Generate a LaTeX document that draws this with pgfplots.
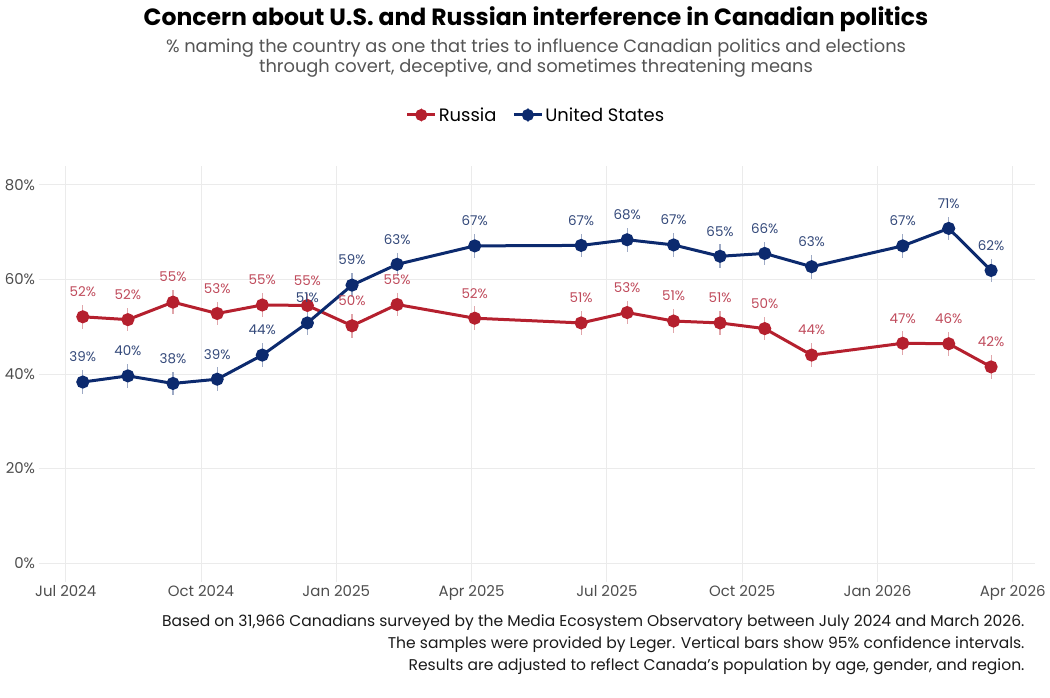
\documentclass[border=0pt]{standalone}
\usepackage{pgfplots}
\pgfplotsset{compat=1.18}
\usepackage{pgfplotstable}
\usepackage{fontspec}
\setmainfont{Poppins}
\definecolor{rus}{HTML}{B5202E}
\definecolor{usa}{HTML}{0C2A6E}
\definecolor{ruslab}{HTML}{BF4A5B}
\definecolor{usalab}{HTML}{34497A}
\definecolor{gridc}{HTML}{EBEBEB}
\definecolor{subc}{HTML}{555555}
\definecolor{tickc}{HTML}{4D4D4D}
\definecolor{capc}{HTML}{1A1A1A}

\pgfplotstableread{
x r rl u ul
0.38 52.1 52 38.3 39
1.38 51.5 52 39.6 40
2.38 55.2 55 38.0 38
3.36 52.8 53 38.9 39
4.36 54.6 55 44.0 44
5.36 54.5 55 50.8 51
6.35 50.2 50 58.8 59
7.35 54.7 55 63.2 63
9.07 51.8 52 67.1 67
11.43 50.8 51 67.2 67
12.45 53.0 53 68.4 68
13.48 51.2 51 67.3 67
14.51 50.8 51 64.9 65
15.50 49.6 50 65.5 66
16.54 44.0 44 62.7 63
18.56 46.5 47 67.1 67
19.58 46.4 46 70.8 71
20.52 41.5 42 61.9 62
}\data

\begin{document}
\begin{tikzpicture}[x=1bp,y=1bp]
\useasboundingbox (0,0) rectangle (1050,698);
\node[font=\fontsize{23.6}{26}\selectfont\bfseries, text=black] at (536,679) {Concern about U.S. and Russian interference in Canadian politics};
\node[font=\fontsize{17.9}{20}\selectfont, text=subc, align=center] at (536,640) {\% naming the country as one that tries to influence Canadian politics and elections\\through covert, deceptive, and sometimes threatening means};
\node[font=\fontsize{15.6}{22}\selectfont, text=capc, align=right, anchor=north east] at (1028,87) {Based on 31,966 Canadians surveyed by the Media Ecosystem Observatory between July 2024 and March 2026.\\The samples were provided by Leger. Vertical bars show 95\% confidence intervals.\\Results are adjusted to reflect Canada's population by age, gender, and region.};
\begin{axis}[
  at={(38.6bp,116bp)}, anchor=south west, scale only axis,
  width=996.7bp, height=416bp,
  xmin=-0.6, xmax=21.5, ymin=-4, ymax=84,
  axis line style={draw=none}, major tick length=0pt,
  grid=major, grid style={gridc, line width=0.9bp},
  xtick={0,3,6,9,12,15,18,21},
  xticklabels={Jul 2024,Oct 2024,Jan 2025,Apr 2025,Jul 2025,Oct 2025,Jan 2026,Apr 2026},
  ytick={0,20,40,60,80},
  yticklabels={0\%,20\%,40\%,60\%,80\%},
  tick label style={font=\fontsize{15}{17}\selectfont, text=tickc},
  clip=false,
  legend columns=2,
  legend style={at={(0.499,1.1226)}, anchor=center, draw=none, fill=none,
    font=\fontsize{18}{20}\selectfont,
    /tikz/every even column/.append style={column sep=14bp}},
]
\addplot[rus, line width=3bp, mark=*, mark size=5bp, mark options={solid},
  legend image code/.code={
    \draw[rus, line width=3bp] (0bp,0bp)--(28bp,0bp);
    \draw[rus!40, line width=1.2bp] (14bp,-7bp)--(14bp,7bp);
    \fill[rus] (14bp,0bp) circle (4.5bp);},
  error bars/.cd, y dir=both, y fixed=2.5, error mark=none,
  error bar style={rus!40, line width=1.2bp}]
  table[x=x,y=r]{\data};
\addlegendentry{Russia}
\addplot[rus, draw=none, mark=none, forget plot, nodes near coords={\pgfplotspointmeta\%},
  point meta=explicit symbolic,
  nodes near coords style={font=\fontsize{13.5}{15}\selectfont, text=ruslab, anchor=center, yshift=25bp}]
  table[x=x,y=r,meta=rl]{\data};
\addplot[usa, line width=3bp, mark=*, mark size=5bp, mark options={solid},
  legend image code/.code={
    \draw[usa, line width=3bp] (0bp,0bp)--(28bp,0bp);
    \draw[usa!40, line width=1.2bp] (14bp,-7bp)--(14bp,7bp);
    \fill[usa] (14bp,0bp) circle (4.5bp);},
  error bars/.cd, y dir=both, y fixed=2.5, error mark=none,
  error bar style={usa!40, line width=1.2bp}]
  table[x=x,y=u]{\data};
\addlegendentry{United States}
\addplot[usa, draw=none, mark=none, forget plot, nodes near coords={\pgfplotspointmeta\%},
  point meta=explicit symbolic,
  nodes near coords style={font=\fontsize{13.5}{15}\selectfont, text=usalab, anchor=center, yshift=25bp}]
  table[x=x,y=u,meta=ul]{\data};
\end{axis}
\end{tikzpicture}
\end{document}
